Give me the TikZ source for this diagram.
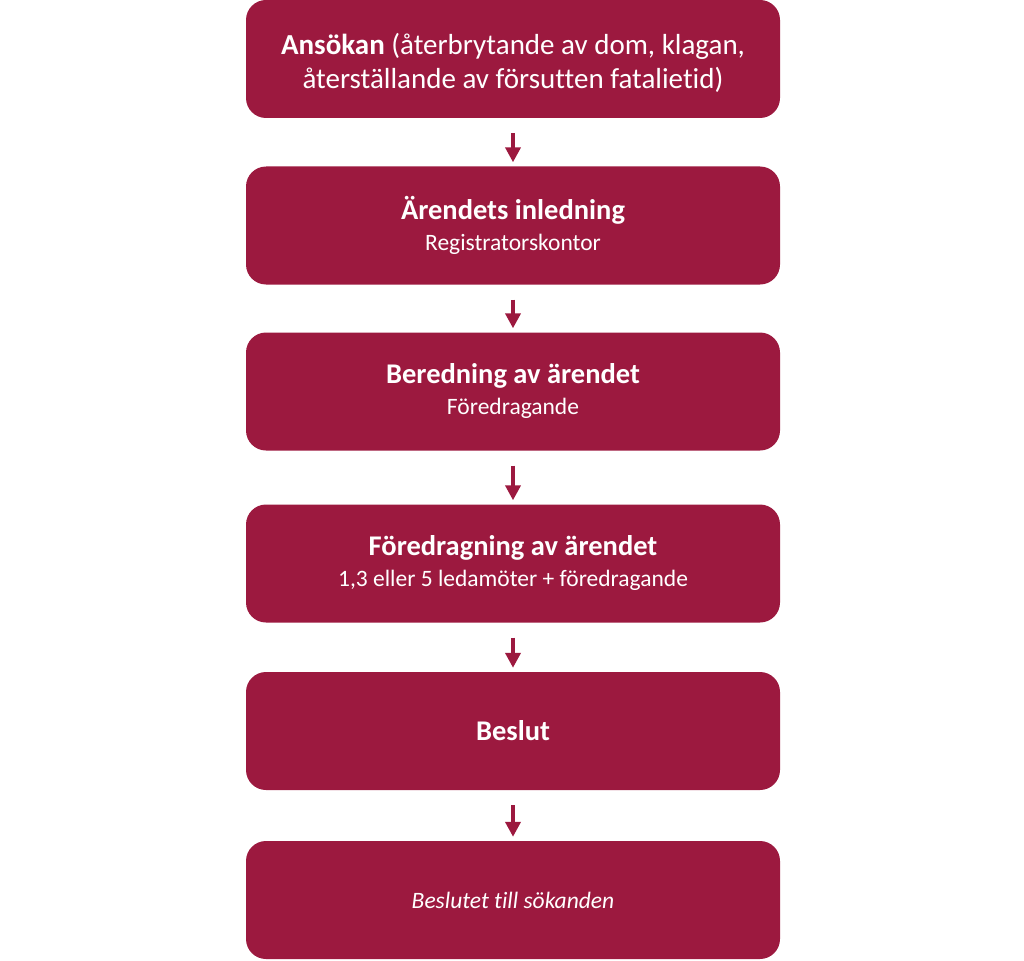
\documentclass[tikz,border=0pt]{standalone}
\usepackage{fontspec}
\setmainfont{Carlito}[Ligatures={NoCommon}]
\usepackage{xcolor}
\usetikzlibrary{arrows.meta,positioning}
\definecolor{boxred}{RGB}{156,25,63}
\tikzset{
  stage/.style={draw=none, fill=boxred, rectangle, rounded corners=20pt,
                minimum width=534pt, minimum height=118pt, inner sep=0pt,
                align=center, text=white, font=\fontsize{23.5}{31}\selectfont},
  bigstage/.style={stage, font=\fontsize{29}{34}\selectfont},
  flow/.style={draw=boxred, line width=4pt,
               -{Triangle[length=15pt,width=15pt]},
               shorten <=15pt, shorten >=4pt},
}
\newcommand{\stagehead}[1]{{\fontsize{28.5}{31}\selectfont\bfseries #1}}

\begin{document}
\begin{tikzpicture}[x=1pt,y=-1pt]
  \useasboundingbox (0,0) rectangle (1024,960);
  \node[bigstage] (ans) at (513,59)
    {\rule{0pt}{30pt}\textbf{Ansökan} (återbrytande av dom, klagan,\\ återställande av försutten fatalietid)};
  \node[stage] (inl) at (513,225.5)
    {\stagehead{Ärendets inledning}\\ Registratorskontor};
  \node[stage] (ber) at (513,391.5)
    {\stagehead{Beredning av ärendet}\\ Föredragande};
  \node[stage] (fdr) at (513,563.5)
    {\stagehead{Föredragning av ärendet}\\ 1,3 eller 5 ledamöter + föredragande};
  \node[stage] (bes) at (513,731)
    {\stagehead{Beslut}};
  \node[stage] (sok) at (513,900)
    {\itshape Beslutet till sökanden};
  \draw[flow] (ans) -- (inl);
  \draw[flow] (inl) -- (ber);
  \draw[flow] (ber) -- (fdr);
  \draw[flow] (fdr) -- (bes);
  \draw[flow] (bes) -- (sok);
\end{tikzpicture}
\end{document}
